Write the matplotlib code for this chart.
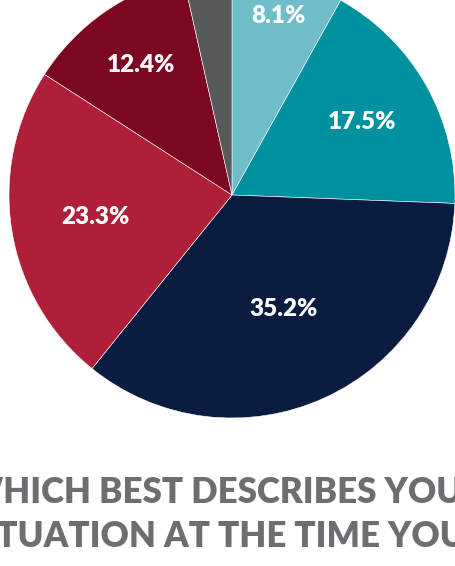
import numpy as np
import matplotlib
matplotlib.use("Agg")
from matplotlib import pyplot as plt

# slice values, clockwise from 12 o'clock
values = [8.1, 17.5, 35.2, 23.3, 12.4, 3.5]
labels = ["8.1%", "17.5%", "35.2%", "23.3%", "12.4%", ""]
colors = ["#6fbdc8", "#0091a0", "#0a1c3f", "#af1f3a", "#7b0721", "#58595b"]
title_lines = ["WHICH BEST DESCRIBES YOUR", "SITUATION AT THE TIME YOU"]

# where each label sits along its wedge (fraction of radius)
label_r = [0.83, 0.67, 0.56, 0.62, 0.71, 0.0]

W, H = 456, 566
fig = plt.figure(figsize=(W / 100, H / 100), dpi=100)
ax = fig.add_axes([0, 0, 1, 1])

cx, cy, rad = 232, H - 195, 223
wedges, _ = ax.pie(values, colors=colors, startangle=90, counterclock=False,
                   center=(cx, cy), radius=rad,
                   wedgeprops=dict(edgecolor="white", linewidth=0.4))
ax.set_xlim(0, W)
ax.set_ylim(0, H)
ax.set_aspect("auto")
ax.axis("off")

for w, lab, f in zip(wedges, labels, label_r):
    if not lab:
        continue
    mid = np.deg2rad((w.theta1 + w.theta2) / 2.0)
    ax.text(cx + rad * f * np.cos(mid), cy + rad * f * np.sin(mid), lab,
            ha="center", va="center", color="white", fontsize=17.5,
            fontweight="heavy", family="Lato")

# heading: fit "HICH BEST DESCRIBES YOU" to ~460 px, leading W cut off
renderer = fig.canvas.get_renderer()
probe = fig.text(0, 0, "HICH BEST DESCRIBES YOU", fontsize=20, fontweight="heavy", family="Lato")
wpart = probe.get_window_extent(renderer).width
probe.set_text("WHICH BEST DESCRIBES YOU")
wfull = probe.get_window_extent(renderer).width
probe.remove()
fs = 20 * 460.0 / wpart
x0 = 3 - (wfull - wpart) * fs / 20

for line, base in zip(title_lines, [503, 547]):
    fig.text(x0 / W, (H - base) / H, line, ha="left", va="baseline",
             fontsize=fs, fontweight="heavy", family="Lato", color="#6d6e71")

fig.savefig("out.png", dpi=100)
